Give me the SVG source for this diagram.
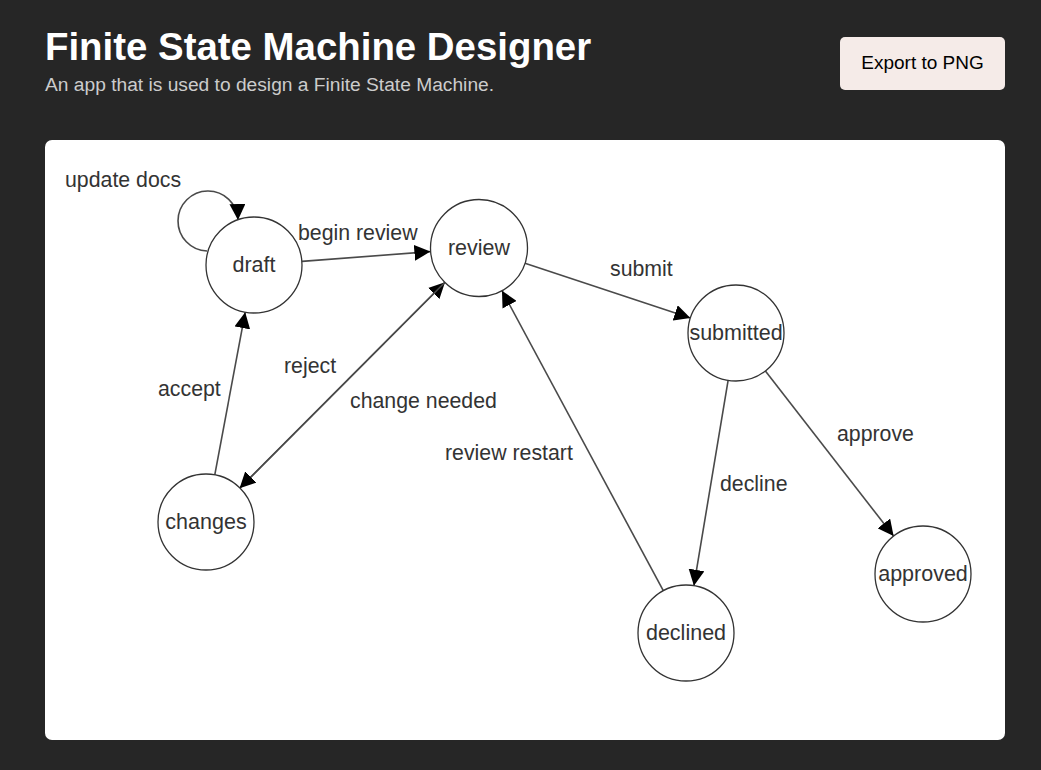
<svg xmlns="http://www.w3.org/2000/svg" width="1041" height="770" viewBox="0 0 1041 770">
<style>
.node circle{fill:#fff;stroke:#333;stroke-width:1.3}
.node text{font-family:"Liberation Sans",Arial,sans-serif;font-size:21.5px;fill:#333;text-anchor:middle}
.lbl{font-family:"Liberation Sans",Arial,sans-serif;font-size:21.3px;fill:#333}
.edge{fill:none;stroke:#4a4a4a;stroke-width:1.6;marker-end:url(#arr)}
</style>
<defs>
<marker id="arr" markerUnits="userSpaceOnUse" markerWidth="17" markerHeight="16" refX="16" refY="8" orient="auto" viewBox="0 0 17 16">
<path d="M0,0 L16,8 L0,16 z" fill="#000"/>
</marker>
</defs>
<rect x="0" y="0" width="1041" height="770" fill="#262626"/>
<g id="header">
<text x="45" y="60" font-family="Liberation Sans,Arial,sans-serif" font-size="38.4" font-weight="bold" fill="#fff">Finite State Machine Designer</text>
<text x="45" y="91" font-family="Liberation Sans,Arial,sans-serif" font-size="19.2" fill="#ccc">An app that is used to design a Finite State Machine.</text>
</g>
<g id="export-button">
<rect x="840" y="37" width="165" height="53" rx="5" fill="#f5ebe8"/>
<text x="922.5" y="69" font-family="Liberation Sans,Arial,sans-serif" font-size="19" fill="#000" text-anchor="middle">Export to PNG</text>
</g>
<rect id="canvas" x="45" y="140" width="960" height="600" rx="7" fill="#fff"/>
<g id="connectors">
<path class="edge" d="M207,251 A30,30 0 1 1 238,220"/>
<line class="edge" x1="302" y1="261.4" x2="430.4" y2="251.6"/>
<line class="edge" x1="214.8" y1="474.8" x2="245.2" y2="312.2"/>
<line class="edge" x1="239.6" y1="488.3" x2="445" y2="282.2"/>
<line class="edge" x1="445" y1="282.2" x2="239.6" y2="488.3"/>
<line class="edge" x1="525" y1="263.2" x2="690.4" y2="317.9"/>
<line class="edge" x1="728.1" y1="380.3" x2="693.9" y2="585.7"/>
<line class="edge" x1="765.4" y1="370.9" x2="893.6" y2="536.1"/>
<line class="edge" x1="663.3" y1="590.7" x2="502" y2="290.7"/>
<text class="lbl" x="65" y="187">update docs</text>
<text class="lbl" x="298" y="240">begin review</text>
<text class="lbl" x="158" y="396">accept</text>
<text class="lbl" x="284" y="373">reject</text>
<text class="lbl" x="350" y="408">change needed</text>
<text class="lbl" x="445" y="460">review restart</text>
<text class="lbl" x="610" y="276">submit</text>
<text class="lbl" x="720" y="491">decline</text>
<text class="lbl" x="837" y="441">approve</text>
</g>
<g id="node-draft" class="node"><circle cx="254" cy="265" r="48"/><text x="254" y="272">draft</text></g>
<g id="node-review" class="node"><circle cx="479" cy="248" r="48.5"/><text x="479" y="255">review</text></g>
<g id="node-submitted" class="node"><circle cx="736" cy="333" r="48"/><text x="736" y="340">submitted</text></g>
<g id="node-changes" class="node"><circle cx="206" cy="522" r="48"/><text x="206" y="529">changes</text></g>
<g id="node-declined" class="node"><circle cx="686" cy="633" r="48"/><text x="686" y="640">declined</text></g>
<g id="node-approved" class="node"><circle cx="923" cy="574" r="48"/><text x="923" y="581">approved</text></g>
</svg>
